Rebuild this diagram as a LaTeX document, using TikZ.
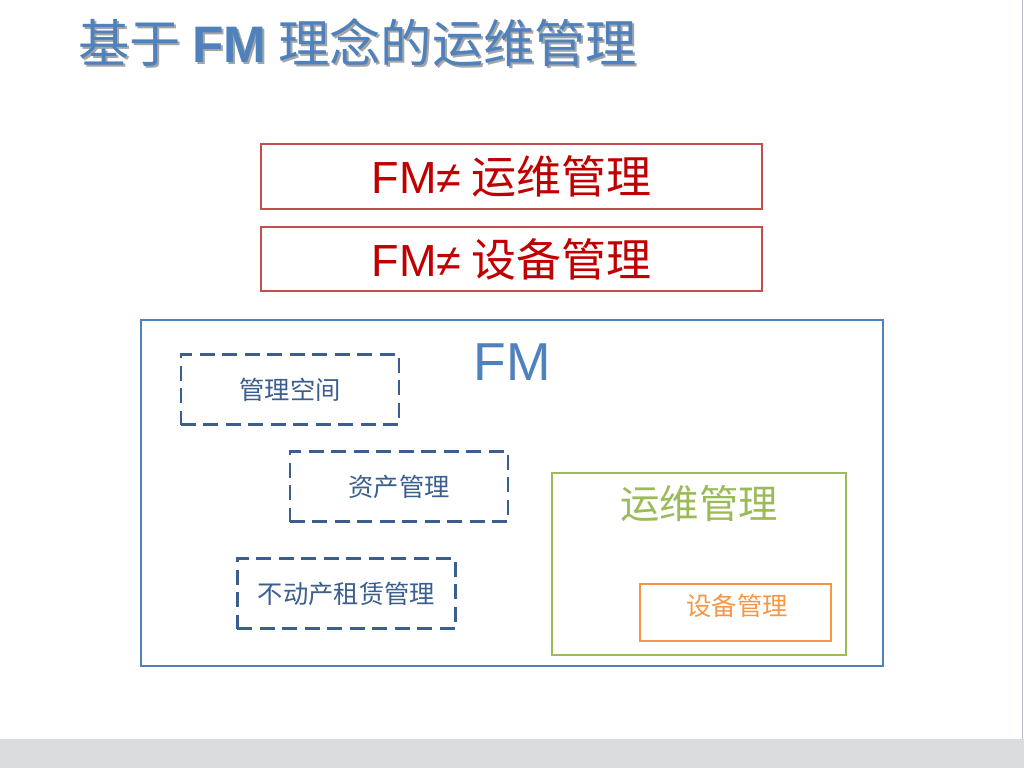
\documentclass[tikz,border=0pt]{standalone}
\usepackage{fontspec}
\setmainfont{Noto Sans CJK SC}
\newfontfamily\latinfont{Liberation Sans}
\usetikzlibrary{positioning}
\definecolor{titleblue}{HTML}{4F81BD}
\definecolor{shadowgray}{HTML}{A5A5A5}
\definecolor{neqred}{HTML}{C00000}
\definecolor{boxred}{HTML}{C0504D}
\definecolor{dashblue}{HTML}{3A5F8F}
\definecolor{opsgreen}{HTML}{9BBB59}
\definecolor{equiporange}{HTML}{F79646}
\definecolor{bargray}{HTML}{DBDCDE}
\definecolor{edgegray}{HTML}{B8BCC4}
\newcommand{\titlestr}{基于 {\latinfont\bfseries FM} 理念的运维管理}
\tikzset{
  neqbox/.style={draw=boxred,line width=1.4pt,minimum width=12.5cm,minimum height=1.62cm,
            inner sep=0pt,text=neqred,font=\fontsize{32}{32}\selectfont},
  fmframe/.style={draw=titleblue,line width=1.7pt,minimum width=18.55cm,minimum height=8.65cm,inner sep=0pt},
  taskbox/.style={draw=dashblue,line width=2pt,dash pattern=on 10.5pt off 5.5pt,
            minimum width=5.45cm,minimum height=1.75cm,inner sep=0pt,
            text=dashblue,font=\fontsize{18}{18}\selectfont},
  opsframe/.style={draw=opsgreen,line width=1.8pt,minimum width=7.35cm,minimum height=4.55cm,inner sep=0pt},
  equipbox/.style={draw=equiporange,line width=1.8pt,minimum width=4.77cm,minimum height=1.42cm,inner sep=0pt},
  titletext/.style={anchor=west,inner sep=0pt,font=\fontsize{36.5}{36.5}\selectfont},
}
\begin{document}
\begin{tikzpicture}[x=0.025cm,y=-0.025cm]
  \useasboundingbox[fill=white] (0,0) rectangle (1024,768);
  % footer bar and right edge
  \fill[bargray] (0,739) rectangle (1024,768);
  \draw[edgegray,line width=0.6pt] (1022,0) -- (1022,739);
  % title with its shadow
  \node[titletext,text=shadowgray] (titleshadow) at (80,45) {\titlestr};
  \node[titletext,text=titleblue]  (title)       at (78,43) {\titlestr};
  % the two statements
  \node[neqbox] (neqops)   at (511.5,176.5) {\raisebox{-2pt}{{\latinfont FM≠} 运维管理}};
  \node[neqbox] (neqequip) at (511.5,259)   {\raisebox{-2pt}{{\latinfont FM≠} 设备管理}};
  % FM frame
  \node[fmframe] (fm) at (512,493) {};
  \node[text=titleblue,font=\latinfont\fontsize{38}{38}\selectfont,inner sep=0pt] (fmlabel) at (512,362) {FM};
  \node[taskbox] (space) at (290,389.5) {管理空间};
  \node[taskbox] (asset) at (399,486.5) {资产管理};
  \node[taskbox] (lease) at (346.5,593.5) {不动产租赁管理};
  % operations inside FM
  \node[opsframe] (ops) at (699,564) {};
  \node[text=opsgreen,font=\fontsize{28}{28}\selectfont,inner sep=0pt] (opslabel) at (699,504) {运维管理};
  \node[equipbox] (equip) at (735.5,612.5) {};
  \node[text=equiporange,font=\fontsize{18}{18}\selectfont,inner sep=0pt] (equiplabel) at (737,606) {设备管理};
\end{tikzpicture}
\end{document}
